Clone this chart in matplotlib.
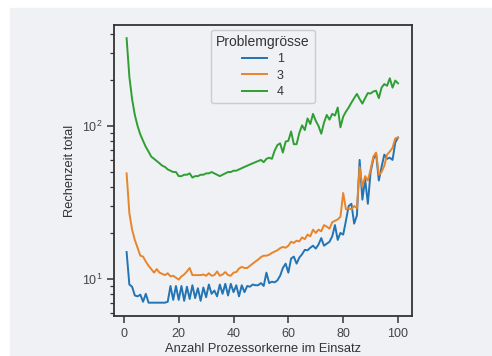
import numpy as np
import matplotlib.pyplot as plt
from matplotlib.patches import Rectangle

plt.rcParams['font.family'] = ['Liberation Sans', 'DejaVu Sans']

# Anzahl Prozessorkerne 1..100
kerne = np.arange(1, 101)

# Problemgrösse 1
zeit_1 = [15.0, 9.2, 8.9, 7.8, 7.7, 7.9, 7.1, 8.0, 7.0, 7.0,
          7.0, 7.0, 7.0, 7.0, 7.0, 7.1, 9.0, 7.3, 9.0, 7.3,
          9.0, 7.2, 8.9, 7.4, 9.1, 7.5, 8.7, 7.2, 8.8, 7.6,
          9.2, 8.0, 8.4, 7.7, 9.2, 8.0, 9.3, 7.8, 9.3, 8.2,
          9.1, 7.7, 9.1, 8.2, 9.0, 8.9, 9.2, 9.1, 9.1, 9.4,
          9.0, 11.0, 9.4, 9.6, 9.5, 9.8, 10.5, 11.8, 12.6, 11.0,
          13.6, 14.0, 12.6, 13.8, 14.5, 15.5, 15.4, 16.0, 16.5, 15.8,
          16.8, 18.5, 16.5, 17.0, 17.5, 19.0, 22.5, 18.0, 20.0, 19.5,
          24.0, 30.0, 31.0, 23.0, 26.0, 60.0, 33.0, 45.0, 31.0, 50.0,
          61.0, 66.0, 44.0, 54.0, 65.0, 61.0, 62.0, 60.0, 78.0, 84.0]

# Problemgrösse 3
zeit_3 = [49, 27, 21, 18, 16, 14.2, 14.0, 13.0, 12.2, 11.6,
          11.0, 11.6, 11.0, 10.8, 10.6, 10.9, 10.4, 10.5, 10.2, 9.9,
          10.4, 10.7, 11.2, 11.8, 10.6, 10.6, 10.6, 10.6, 10.7, 10.5,
          10.9, 10.5, 10.6, 11.2, 10.5, 10.7, 11.1, 10.6, 10.5, 11.0,
          11.1, 11.7, 12.0, 11.8, 11.8, 12.2, 12.6, 13.0, 13.4, 13.9,
          14.2, 14.2, 14.4, 14.8, 15.1, 15.4, 15.9, 16.2, 16.0, 16.5,
          17.5, 17.2, 17.8, 17.6, 18.7, 18.2, 19.5, 19.0, 21.0, 20.0,
          21.0, 20.5, 22.5, 22.0, 21.3, 23.5, 24.0, 24.5, 25.5, 36.5,
          28.5, 29.0, 28.5, 30.0, 29.0, 54.0, 40.0, 47.0, 44.0, 52.0,
          63.0, 67.0, 48.0, 50.0, 55.0, 65.0, 68.0, 72.0, 83.0, 84.0]

# Problemgrösse 4
zeit_4 = [375, 210, 150, 118, 100, 88, 80, 73, 68, 63,
          61, 59, 57, 55, 54, 52, 51, 50, 50, 47,
          47, 48, 48, 49, 46, 47, 47, 48, 48, 49,
          49, 50, 49, 48, 47, 48, 49, 50, 50, 51,
          51, 52, 53, 54, 55, 56, 57, 58, 59, 60,
          58, 61, 62, 61, 69, 75, 77, 67, 79, 80,
          92, 76, 76, 90, 101, 94, 112, 103, 120, 108,
          100, 89, 105, 118, 110, 120, 117, 132, 98, 115,
          124, 132, 142, 152, 162, 150, 140, 152, 164, 163,
          168, 170, 152, 178, 188, 183, 205, 178, 198, 190]

groessen = ['1', '3', '4']
farben = ['#2274b4', '#e8852a', '#2f9e33']
bg = '#eff1f4'

fig = plt.figure(figsize=(4.92, 3.56), dpi=100, facecolor='white')
# grauer Hintergrund mit weissem Rand links/oben
rand = Rectangle((10 / 492, 0), 1, (356 - 8) / 356,
                 transform=fig.transFigure, color=bg, zorder=-10)
fig.add_artist(rand)
ax = fig.add_axes([0.2317, 0.1124, 0.6057, 0.8174])
ax.set_facecolor(bg)

for g, y, c in zip(groessen, [zeit_1, zeit_3, zeit_4], farben):
    ax.plot(kerne, y, color=c, lw=1.4, label=g)

ax.set_yscale('log')
ax.set_xlim(-3.6, 105.1)
ax.set_ylim(5.73, 457)
ax.set_xticks([0, 20, 40, 60, 80, 100])

for s in ax.spines.values():
    s.set_color('#333333')
    s.set_linewidth(1.3)
ax.tick_params(axis='both', which='major', length=5, width=1.1, color='#333333',
               labelsize=9, labelcolor='#444444')
ax.tick_params(axis='y', which='minor', length=3, width=0.9, color='#333333')

ax.set_xlabel('Anzahl Prozessorkerne im Einsatz', fontsize=9.3, color='#333333', labelpad=2)
ax.set_ylabel('Rechenzeit total', fontsize=9.3, color='#333333')

leg = ax.legend(title='Problemgrösse', loc='upper center', fontsize=9,
                title_fontsize=10, frameon=True, facecolor=bg, edgecolor='#cccccc',
                labelspacing=0.35, borderaxespad=0.4)
leg.get_frame().set_alpha(1)
for t in leg.get_texts():
    t.set_color('#333333')
leg.get_title().set_color('#333333')

fig.savefig('out.png', dpi=100, facecolor=fig.get_facecolor())
